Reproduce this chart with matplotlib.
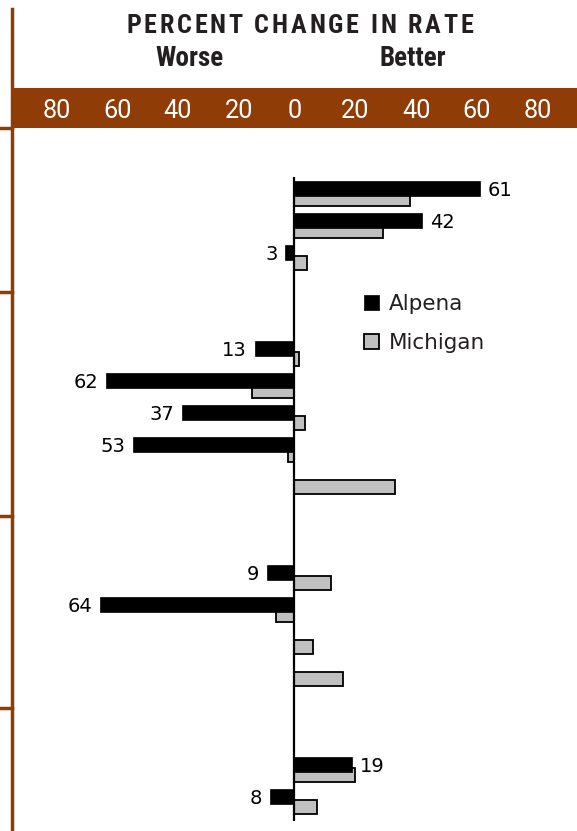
import matplotlib
matplotlib.use("Agg")
import matplotlib.pyplot as plt
import numpy as np
from matplotlib import font_manager
from matplotlib.lines import Line2D
from matplotlib.transforms import blended_transform_factory

# ---------------- data ----------------
series_names = ["Alpena", "Michigan"]
row_slots = [0, 1, 2, 5, 6, 7, 8, 9, 12, 13, 14, 15, 18, 19]
alpena = [61, 42, -3, -13, -62, -37, -53, np.nan, -9, -64, np.nan, np.nan, 19, -8]
michigan = [38, 29, 4, 1.5, -14, 3.5, -2, 33, 12, -6, 6, 16, 20, 7.5]
group_last_slots = [2, 9, 15]
tick_values = [-80, -60, -40, -20, 0, 20, 40, 60, 80]
tick_labels = ["80", "60", "40", "20", "0", "20", "40", "60", "80"]
title = "PERCENT CHANGE IN RATE"
side_labels = ["Worse", "Better"]

# ---------------- style ----------------
BROWN = "#8f3c06"
GRAY = "#c0c0c0"
TEXT = "#231f20"

avail = {f.name for f in font_manager.fontManager.ttflist}
def pick(*names):
    for n in names:
        if n in avail:
            return n
    return "DejaVu Sans"
NARROW = pick("Liberation Sans Narrow", "Roboto Condensed", "Roboto")
ROBOTO = pick("Roboto", "Liberation Sans Narrow")

W, H = 577, 831
fig = plt.figure(figsize=(W / 100, H / 100), dpi=100)
fig.patch.set_facecolor("white")

def fx(px):
    return px / W

def fy(py):
    return 1 - py / H

zero_px, ppu = 294.5, 3.04
xlim = ((12 - zero_px) / ppu, (W - zero_px) / ppu)
slot0_px, slot_px = 188.5, 32.0

# ---------------- main axes ----------------
ax = fig.add_axes([fx(12), 0, 1 - fx(12), fy(128)])
ax.set_xlim(xlim)
ax.set_ylim((H - slot0_px) / slot_px, (128 - slot0_px) / slot_px)
ax.axis("off")

slots = np.array(row_slots, dtype=float)
alp = np.array(alpena, dtype=float)
mic = np.array(michigan, dtype=float)
mask = ~np.isnan(alp)

gbars = ax.barh(slots + 0.32, mic, height=0.44, color=GRAY, edgecolor="black",
                linewidth=1.3, zorder=2)
bbars = ax.barh(slots[mask], alp[mask], height=0.47, color="black",
                edgecolor="black", linewidth=0.5, zorder=3)

ax.vlines(0, slots[0] - 0.36, slots[-1] + 0.75, color="black", lw=1.6, zorder=4)

for s, v in zip(slots[mask], alp[mask]):
    ax.annotate(f"{abs(v):g}", xy=(v, s), xytext=(8 if v > 0 else -8, -2),
                textcoords="offset pixels", ha="left" if v > 0 else "right",
                va="center", fontsize=14, family="DejaVu Sans", color="black")

# group separators on the left rule
tsep = blended_transform_factory(ax.transAxes, ax.transData)
for g in group_last_slots:
    nxt = min(s for s in row_slots if s > g)
    ysep = (g + nxt) / 2 - 0.28
    ax.add_line(Line2D([-12 / (W - 12), 0], [ysep, ysep], transform=tsep,
                       color=BROWN, lw=2.5, clip_on=False))
ax.add_line(Line2D([-12 / (W - 12), 0], [1, 1], transform=ax.transAxes,
                   color=BROWN, lw=2.5, clip_on=False))

# legend
leg = ax.legend([bbars, gbars], series_names, loc="upper left",
                bbox_to_anchor=(fx(364), fy(294)), bbox_transform=fig.transFigure,
                frameon=False, borderpad=0, borderaxespad=0, handlelength=0.7,
                handleheight=0.7, handletextpad=0.45, labelspacing=0.88,
                prop=dict(family="DejaVu Sans", size=15.5))
for t in leg.get_texts():
    t.set_color(TEXT)

# left vertical rule
fig.add_artist(Line2D([fx(12), fx(12)], [fy(9), 0], transform=fig.transFigure,
                      color=BROWN, lw=2.5))

# ---------------- band with scale ----------------
axb = fig.add_axes([fx(12), fy(128), 1 - fx(12), fy(88) - fy(128)])
axb.set_facecolor(BROWN)
axb.set_xlim(xlim)
axb.set_ylim(0, 1)
axb.set_xticks([])
axb.set_yticks([])
for sp in axb.spines.values():
    sp.set_visible(False)
tb = blended_transform_factory(axb.transData, axb.transAxes)
for tv, tl in zip(tick_values, tick_labels):
    axb.annotate(tl, xy=(tv, 0.25), xycoords=tb, xytext=(5 if tv < 0 else 0, 0),
                 textcoords="offset pixels", ha="center", va="baseline",
                 color="white", fontsize=18.2, family=ROBOTO)

# ---------------- header ----------------
fig.text(fx(189), fy(65.7), side_labels[0], ha="center", va="baseline",
         fontsize=19.5, family=NARROW, weight="bold", color=TEXT)
fig.text(fx(413), fy(65.7), side_labels[1], ha="center", va="baseline",
         fontsize=19.5, family=NARROW, weight="bold", color=TEXT)

# letter-spaced title
renderer = fig.canvas.get_renderer()
prop = font_manager.FontProperties(family=NARROW, weight="bold", size=18.8)
def adv(s):
    w, h, d = renderer.get_text_width_height_descent(s, prop, ismath=False)
    return w
widths = []
for ch in title:
    if ch == " ":
        widths.append(adv("N N") - adv("NN"))
    else:
        widths.append(adv(ch))
target_w = 347
track = (target_w - sum(widths)) / (len(title) - 1)
xcur = 299.5 - target_w / 2
for ch, w in zip(title, widths):
    if ch != " ":
        fig.text(fx(xcur), fy(33), ch, ha="left", va="baseline",
                 fontproperties=prop, color=TEXT)
    xcur += w + track

fig.savefig("out.png", dpi=100, facecolor="white")
